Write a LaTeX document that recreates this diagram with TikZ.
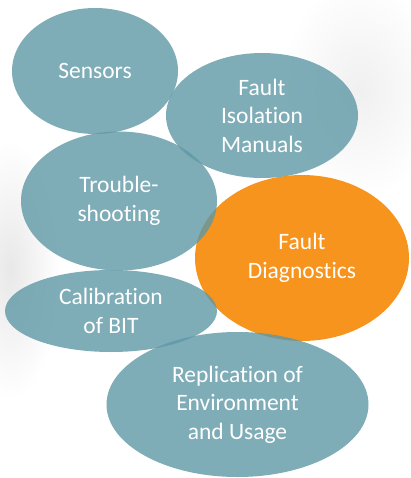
\documentclass[tikz,border=0pt]{standalone}
\usepackage{fontspec}
\setmainfont{Carlito}[Ligatures={NoCommon,NoRare}]
\usetikzlibrary{shapes.geometric}
\definecolor{tealc}{RGB}{94,152,166}
\definecolor{orangec}{RGB}{247,148,30}
\tikzset{
  bubble/.style={ellipse, inner sep=0pt, outer sep=0pt, fill=tealc, fill opacity=0.8, draw=none},
  obubble/.style={ellipse, inner sep=0pt, outer sep=0pt, fill=orangec, draw=none},
  lbl/.style={text=white, align=center, font=\fontsize{23.5}{28.5}\selectfont, inner sep=0pt},
}
\begin{document}
\begin{tikzpicture}[x=1pt,y=-1pt]
\useasboundingbox (0,0) rectangle (410,478);
\fill[white] (0,0) rectangle (410,478);
\shade[inner color=black!9, outer color=white] (10,270) ellipse [x radius=50pt, y radius=130pt];
\shade[inner color=black!6, outer color=white] (360,90) ellipse [x radius=80pt, y radius=110pt];
% ellipses
\node[obubble, minimum width=214pt, minimum height=166pt] (fd) at (302,258) {};
\node[bubble, minimum width=166pt, minimum height=126pt] (se) at (95,71) {};
\node[bubble, minimum width=192pt, minimum height=125pt] (fim) at (262,115.5) {};
\node[bubble, minimum width=196pt, minimum height=139pt] (ts) at (119,201) {};
\node[bubble, minimum width=212pt, minimum height=82pt] (cb) at (111,311) {};
\node[bubble, minimum width=262pt, minimum height=145pt] (rep) at (237.5,404.5) {};
% labels
\node[lbl] (tse) at (se.center) {Sensors};
\node[lbl] (tfim) at (fim.center) {Fault\\Isolation\\Manuals};
\node[lbl] (tts) at (ts.center) {Trouble-\\shooting};
\node[lbl] (tfd) at (fd.center) {Fault\\Diagnostics};
\node[lbl] (tcb) at (cb.center) {Calibration\\of BIT};
\node[lbl] (trep) at (rep.center) {Replication of\\Environment\\and Usage};
\end{tikzpicture}
\end{document}
